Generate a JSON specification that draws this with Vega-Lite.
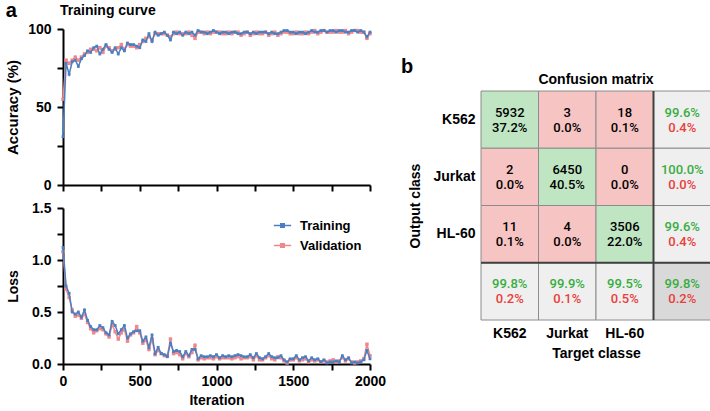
{
  "$schema": "https://vega.github.io/schema/vega-lite/v6.json",
  "padding": {"left": 5, "top": 1, "right": 0, "bottom": 0},
  "config": {
    "font": "Liberation Sans",
    "view": {"stroke": null},
    "axis": {"domainColor": "black", "domainWidth": 2, "tickColor": "black", "tickWidth": 2, "tickSize": 6, "labelFontSize": 14, "labelFontWeight": "bold", "labelColor": "black", "titleFontSize": 14, "titleFontWeight": "bold", "titleColor": "black", "grid": false, "labelFlush": false, "labelOverlap": false},
    "axisX": {"labelPadding": 4},
    "axisY": {"labelPadding": 6},
    "title": {"color": "black", "fontWeight": "bold"}
  },
  "datasets": {
    "curve": [
      {"it":0,"accT":31,"accV":55,"lossT":1.12,"lossV":1.08},
      {"it":20,"accT":78,"accV":80,"lossT":0.75,"lossV":0.72},
      {"it":40,"accT":71,"accV":78,"lossT":0.68,"lossV":0.64},
      {"it":60,"accT":79,"accV":80,"lossT":0.50,"lossV":0.52},
      {"it":80,"accT":80,"accV":82,"lossT":0.48,"lossV":0.46},
      {"it":100,"accT":76,"accV":80,"lossT":0.50,"lossV":0.47},
      {"it":120,"accT":81,"accV":82,"lossT":0.45,"lossV":0.44},
      {"it":140,"accT":83,"accV":84,"lossT":0.52,"lossV":0.48},
      {"it":160,"accT":86,"accV":85,"lossT":0.42,"lossV":0.40},
      {"it":180,"accT":85,"accV":87,"lossT":0.36,"lossV":0.34},
      {"it":200,"accT":88,"accV":87,"lossT":0.33,"lossV":0.30},
      {"it":220,"accT":89,"accV":86,"lossT":0.33,"lossV":0.32},
      {"it":240,"accT":84,"accV":88,"lossT":0.37,"lossV":0.34},
      {"it":260,"accT":87,"accV":85,"lossT":0.35,"lossV":0.33},
      {"it":280,"accT":90,"accV":89,"lossT":0.30,"lossV":0.29},
      {"it":300,"accT":87,"accV":88,"lossT":0.28,"lossV":0.26},
      {"it":320,"accT":85,"accV":86,"lossT":0.41,"lossV":0.38},
      {"it":340,"accT":88,"accV":87,"lossT":0.37,"lossV":0.31},
      {"it":360,"accT":84,"accV":88,"lossT":0.29,"lossV":0.24},
      {"it":380,"accT":88,"accV":90,"lossT":0.33,"lossV":0.30},
      {"it":400,"accT":86,"accV":87,"lossT":0.37,"lossV":0.33},
      {"it":420,"accT":91,"accV":90,"lossT":0.25,"lossV":0.22},
      {"it":440,"accT":90,"accV":89,"lossT":0.29,"lossV":0.28},
      {"it":460,"accT":90,"accV":89,"lossT":0.31,"lossV":0.30},
      {"it":480,"accT":89,"accV":88,"lossT":0.32,"lossV":0.36},
      {"it":500,"accT":88,"accV":90,"lossT":0.32,"lossV":0.30},
      {"it":520,"accT":93,"accV":92,"lossT":0.22,"lossV":0.20},
      {"it":540,"accT":92,"accV":94,"lossT":0.26,"lossV":0.23},
      {"it":560,"accT":97,"accV":95,"lossT":0.16,"lossV":0.14},
      {"it":580,"accT":92,"accV":93,"lossT":0.28,"lossV":0.24},
      {"it":600,"accT":98,"accV":97,"lossT":0.10,"lossV":0.09},
      {"it":620,"accT":96,"accV":97,"lossT":0.16,"lossV":0.13},
      {"it":640,"accT":97,"accV":97,"lossT":0.10,"lossV":0.10},
      {"it":660,"accT":98,"accV":97,"lossT":0.09,"lossV":0.08},
      {"it":680,"accT":96,"accV":96,"lossT":0.07,"lossV":0.08},
      {"it":700,"accT":93,"accV":95,"lossT":0.20,"lossV":0.24},
      {"it":720,"accT":98,"accV":97,"lossT":0.12,"lossV":0.10},
      {"it":740,"accT":97,"accV":98,"lossT":0.13,"lossV":0.11},
      {"it":760,"accT":98,"accV":97,"lossT":0.12,"lossV":0.09},
      {"it":780,"accT":96,"accV":97,"lossT":0.07,"lossV":0.05},
      {"it":800,"accT":98,"accV":97,"lossT":0.12,"lossV":0.10},
      {"it":820,"accT":97,"accV":98,"lossT":0.08,"lossV":0.07},
      {"it":840,"accT":98,"accV":96,"lossT":0.14,"lossV":0.11},
      {"it":860,"accT":96,"accV":94,"lossT":0.14,"lossV":0.18},
      {"it":880,"accT":99,"accV":98,"lossT":0.05,"lossV":0.04},
      {"it":900,"accT":98,"accV":98,"lossT":0.08,"lossV":0.06},
      {"it":920,"accT":98,"accV":97,"lossT":0.07,"lossV":0.05},
      {"it":940,"accT":97,"accV":98,"lossT":0.07,"lossV":0.06},
      {"it":960,"accT":98,"accV":97,"lossT":0.08,"lossV":0.06},
      {"it":980,"accT":99,"accV":98,"lossT":0.07,"lossV":0.05},
      {"it":1000,"accT":98,"accV":98,"lossT":0.09,"lossV":0.07},
      {"it":1020,"accT":97,"accV":98,"lossT":0.06,"lossV":0.05},
      {"it":1040,"accT":98,"accV":97,"lossT":0.08,"lossV":0.06},
      {"it":1060,"accT":98,"accV":97,"lossT":0.07,"lossV":0.06},
      {"it":1080,"accT":97,"accV":98,"lossT":0.08,"lossV":0.06},
      {"it":1100,"accT":98,"accV":97,"lossT":0.07,"lossV":0.05},
      {"it":1120,"accT":98,"accV":98,"lossT":0.08,"lossV":0.06},
      {"it":1140,"accT":97,"accV":98,"lossT":0.09,"lossV":0.07},
      {"it":1160,"accT":97,"accV":96,"lossT":0.08,"lossV":0.05},
      {"it":1180,"accT":98,"accV":97,"lossT":0.07,"lossV":0.06},
      {"it":1200,"accT":98,"accV":98,"lossT":0.07,"lossV":0.06},
      {"it":1220,"accT":97,"accV":96,"lossT":0.09,"lossV":0.07},
      {"it":1240,"accT":98,"accV":97,"lossT":0.06,"lossV":0.04},
      {"it":1260,"accT":97,"accV":98,"lossT":0.10,"lossV":0.08},
      {"it":1280,"accT":98,"accV":97,"lossT":0.06,"lossV":0.04},
      {"it":1300,"accT":98,"accV":97,"lossT":0.05,"lossV":0.04},
      {"it":1320,"accT":98,"accV":98,"lossT":0.07,"lossV":0.06},
      {"it":1340,"accT":97,"accV":96,"lossT":0.10,"lossV":0.08},
      {"it":1360,"accT":98,"accV":97,"lossT":0.07,"lossV":0.05},
      {"it":1380,"accT":97,"accV":98,"lossT":0.06,"lossV":0.04},
      {"it":1400,"accT":97,"accV":96,"lossT":0.06,"lossV":0.07},
      {"it":1420,"accT":98,"accV":97,"lossT":0.08,"lossV":0.06},
      {"it":1440,"accT":99,"accV":98,"lossT":0.04,"lossV":0.03},
      {"it":1460,"accT":99,"accV":98,"lossT":0.02,"lossV":0.01},
      {"it":1480,"accT":98,"accV":97,"lossT":0.05,"lossV":0.04},
      {"it":1500,"accT":98,"accV":97,"lossT":0.05,"lossV":0.04},
      {"it":1520,"accT":97,"accV":98,"lossT":0.08,"lossV":0.06},
      {"it":1540,"accT":98,"accV":97,"lossT":0.04,"lossV":0.03},
      {"it":1560,"accT":98,"accV":97,"lossT":0.06,"lossV":0.04},
      {"it":1580,"accT":97,"accV":98,"lossT":0.07,"lossV":0.05},
      {"it":1600,"accT":98,"accV":97,"lossT":0.03,"lossV":0.02},
      {"it":1620,"accT":99,"accV":98,"lossT":0.06,"lossV":0.04},
      {"it":1640,"accT":98,"accV":99,"lossT":0.04,"lossV":0.03},
      {"it":1660,"accT":98,"accV":97,"lossT":0.05,"lossV":0.04},
      {"it":1680,"accT":99,"accV":98,"lossT":0.02,"lossV":0.02},
      {"it":1700,"accT":99,"accV":99,"lossT":0.04,"lossV":0.03},
      {"it":1720,"accT":98,"accV":98,"lossT":0.01,"lossV":0.02},
      {"it":1740,"accT":99,"accV":98,"lossT":0.02,"lossV":0.03},
      {"it":1760,"accT":99,"accV":98,"lossT":0.02,"lossV":0.04},
      {"it":1780,"accT":98,"accV":99,"lossT":0.03,"lossV":0.02},
      {"it":1800,"accT":99,"accV":98,"lossT":0.02,"lossV":0.03},
      {"it":1820,"accT":99,"accV":98,"lossT":0.08,"lossV":0.06},
      {"it":1840,"accT":98,"accV":99,"lossT":0.04,"lossV":0.03},
      {"it":1860,"accT":98,"accV":97,"lossT":0.06,"lossV":0.05},
      {"it":1880,"accT":99,"accV":98,"lossT":0.01,"lossV":0.02},
      {"it":1900,"accT":99,"accV":99,"lossT":0.02,"lossV":0.01},
      {"it":1920,"accT":98,"accV":99,"lossT":0.01,"lossV":0.02},
      {"it":1940,"accT":99,"accV":98,"lossT":0.02,"lossV":0.03},
      {"it":1960,"accT":98,"accV":98,"lossT":0.04,"lossV":0.05},
      {"it":1980,"accT":95,"accV":94,"lossT":0.13,"lossV":0.19},
      {"it":2000,"accT":98,"accV":97,"lossT":0.05,"lossV":0.08}
    ],
    "cm": [
      {"row":"K562","col":"K562","t1":"5932","t2":"37.2%","kind":"diag"},
      {"row":"K562","col":"Jurkat","t1":"3","t2":"0.0%","kind":"off"},
      {"row":"K562","col":"HL-60","t1":"18","t2":"0.1%","kind":"off"},
      {"row":"K562","col":"Total","t1":"99.6%","t2":"0.4%","kind":"sum"},
      {"row":"Jurkat","col":"K562","t1":"2","t2":"0.0%","kind":"off"},
      {"row":"Jurkat","col":"Jurkat","t1":"6450","t2":"40.5%","kind":"diag"},
      {"row":"Jurkat","col":"HL-60","t1":"0","t2":"0.0%","kind":"off"},
      {"row":"Jurkat","col":"Total","t1":"100.0%","t2":"0.0%","kind":"sum"},
      {"row":"HL-60","col":"K562","t1":"11","t2":"0.1%","kind":"off"},
      {"row":"HL-60","col":"Jurkat","t1":"4","t2":"0.0%","kind":"off"},
      {"row":"HL-60","col":"HL-60","t1":"3506","t2":"22.0%","kind":"diag"},
      {"row":"HL-60","col":"Total","t1":"99.6%","t2":"0.4%","kind":"sum"},
      {"row":"Total","col":"K562","t1":"99.8%","t2":"0.2%","kind":"sum"},
      {"row":"Total","col":"Jurkat","t1":"99.9%","t2":"0.1%","kind":"sum"},
      {"row":"Total","col":"HL-60","t1":"99.5%","t2":"0.5%","kind":"sum"},
      {"row":"Total","col":"Total","t1":"99.8%","t2":"0.2%","kind":"total"}
    ]
  },
  "spacing": 15,
  "hconcat": [
    {
      "title": {"text": "a", "anchor": "start", "frame": "bounds", "fontSize": 20, "offset": -17},
      "spacing": 9,
      "resolve": {"scale": {"color": "independent"}, "legend": {"color": "independent"}},
      "vconcat": [
        {
          "width": 307, "height": 156,
          "title": {"text": "Training curve", "anchor": "start", "frame": "group", "fontSize": 14, "offset": 4, "dx": -3},
          "data": {"name": "curve"},
          "layer": [
            {
              "mark": {"type": "line", "strokeWidth": 1.5, "point": {"shape": "square", "size": 12, "filled": true}},
              "encoding": {
                "x": {"field": "it", "type": "quantitative", "scale": {"domain": [0, 2000], "nice": false}, "axis": {"values": [0,250,500,750,1000,1250,1500,1750,2000], "labels": false, "title": null}},
                "y": {"field": "accV", "type": "quantitative", "scale": {"domain": [0, 100]}, "axis": {"values": [0,25,50,75,100], "labelExpr": "datum.value % 50 == 0 ? datum.label : ''", "title": "Accuracy (%)", "titleFontSize": 15, "titlePadding": 7}},
                "color": {"datum": "Validation", "type": "nominal", "scale": {"domain": ["Training", "Validation"], "range": ["#4a7fc1", "#f0878b"]}, "legend": null}
              }
            },
            {
              "mark": {"type": "line", "strokeWidth": 1.5, "point": {"shape": "square", "size": 8, "filled": true}},
              "encoding": {
                "x": {"field": "it", "type": "quantitative", "scale": {"domain": [0, 2000], "nice": false}, "axis": {"values": [0,250,500,750,1000,1250,1500,1750,2000], "labels": false, "title": null}},
                "y": {"field": "accT", "type": "quantitative", "scale": {"domain": [0, 100]}, "axis": {"values": [0,25,50,75,100], "labelExpr": "datum.value % 50 == 0 ? datum.label : ''", "title": "Accuracy (%)", "titleFontSize": 15, "titlePadding": 7}},
                "color": {"datum": "Training", "type": "nominal", "scale": {"domain": ["Training", "Validation"], "range": ["#4a7fc1", "#f0878b"]}, "legend": null}
              }
            }
          ]
        },
        {
          "width": 307, "height": 156,
          "data": {"name": "curve"},
          "layer": [
            {
              "mark": {"type": "line", "strokeWidth": 1.5, "point": {"shape": "square", "size": 12, "filled": true}},
              "encoding": {
                "x": {"field": "it", "type": "quantitative", "scale": {"domain": [0, 2000], "nice": false}, "axis": {"values": [0,250,500,750,1000,1250,1500,1750,2000], "labelExpr": "datum.value % 500 == 0 ? datum.value + '' : ''", "title": "Iteration", "titlePadding": 5}},
                "y": {"field": "lossV", "type": "quantitative", "scale": {"domain": [0, 1.5]}, "axis": {"values": [0,0.25,0.5,0.75,1,1.25,1.5], "labelExpr": "(datum.value * 4) % 2 == 0 ? format(datum.value, '.1f') : ''", "title": "Loss", "titlePadding": 11}},
                "color": {"datum": "Validation", "type": "nominal", "scale": {"domain": ["Training", "Validation"], "range": ["#4a7fc1", "#f0878b"]}, "legend": {"orient": "top-right", "offset": 8, "padding": 0, "title": null, "labelFontSize": 13, "labelFontWeight": "bold", "labelColor": "black", "symbolType": "M-1,0H1M-0.2,-0.2H0.2V0.2H-0.2Z", "symbolSize": 300, "symbolStrokeWidth": 1.5, "rowPadding": 3, "labelOffset": 8}}
              }
            },
            {
              "mark": {"type": "line", "strokeWidth": 1.5, "point": {"shape": "square", "size": 8, "filled": true}},
              "encoding": {
                "x": {"field": "it", "type": "quantitative", "scale": {"domain": [0, 2000], "nice": false}, "axis": {"values": [0,250,500,750,1000,1250,1500,1750,2000], "labelExpr": "datum.value % 500 == 0 ? datum.value + '' : ''", "title": "Iteration", "titlePadding": 5}},
                "y": {"field": "lossT", "type": "quantitative", "scale": {"domain": [0, 1.5]}, "axis": {"values": [0,0.25,0.5,0.75,1,1.25,1.5], "labelExpr": "(datum.value * 4) % 2 == 0 ? format(datum.value, '.1f') : ''", "title": "Loss", "titlePadding": 11}},
                "color": {"datum": "Training", "type": "nominal", "scale": {"domain": ["Training", "Validation"], "range": ["#4a7fc1", "#f0878b"]}, "legend": {"orient": "top-right", "offset": 8, "padding": 0, "title": null, "labelFontSize": 13, "labelFontWeight": "bold", "labelColor": "black", "symbolType": "M-1,0H1M-0.2,-0.2H0.2V0.2H-0.2Z", "symbolSize": 300, "symbolStrokeWidth": 1.5, "rowPadding": 3, "labelOffset": 8}}
              }
            }
          ]
        }
      ]
    },
    {
      "spacing": -4,
      "vconcat": [
        {
          "width": 1, "height": 28,
          "data": {"values": []},
          "mark": "point",
          "title": {"text": "b", "orient": "bottom", "anchor": "start", "frame": "bounds", "fontSize": 20, "offset": 0, "dx": -80}
        },
        {
          "width": 230, "height": 229,
          "title": {"text": "Confusion matrix", "anchor": "middle", "frame": "group", "fontSize": 14, "offset": 3},
          "data": {"name": "cm"},
          "layer": [
            {
              "mark": {"type": "rect", "stroke": "#8c8c8c", "strokeWidth": 1},
              "encoding": {
                "x": {"field": "col", "type": "nominal", "scale": {"domain": ["K562", "Jurkat", "HL-60", "Total"], "paddingInner": 0, "paddingOuter": 0}, "axis": {"orient": "bottom", "title": "Target classe", "labelExpr": "datum.value == 'Total' ? '' : datum.value", "labelAngle": 0, "domain": false, "ticks": false, "labelPadding": 6, "titlePadding": 6}},
                "y": {"field": "row", "type": "nominal", "scale": {"domain": ["K562", "Jurkat", "HL-60", "Total"], "paddingInner": 0, "paddingOuter": 0}, "axis": {"title": "Output class", "labelExpr": "datum.value == 'Total' ? '' : datum.value", "domain": false, "ticks": false, "labelPadding": 6, "titlePadding": 10}},
                "fill": {"field": "kind", "type": "nominal", "scale": {"domain": ["diag", "off", "sum", "total"], "range": ["#bfe5c3", "#f6c4c2", "#efefef", "#d9d9d9"]}, "legend": null}
              }
            },
            {
              "mark": {"type": "text", "dy": -7, "fontSize": 13, "font": "Roboto", "fontWeight": 500},
              "encoding": {
                "x": {"field": "col", "type": "nominal"},
                "y": {"field": "row", "type": "nominal"},
                "text": {"field": "t1"},
                "color": {"condition": {"test": "datum.kind == 'sum' || datum.kind == 'total'", "value": "#38ad3f"}, "value": "black"}
              }
            },
            {
              "mark": {"type": "text", "dy": 8, "fontSize": 13, "font": "Roboto", "fontWeight": 500},
              "encoding": {
                "x": {"field": "col", "type": "nominal"},
                "y": {"field": "row", "type": "nominal"},
                "text": {"field": "t2"},
                "color": {"condition": {"test": "datum.kind == 'sum' || datum.kind == 'total'", "value": "#e8403a"}, "value": "black"}
              }
            },
            {
              "data": {"values": [{"col": "Total", "row": "Total"}]},
              "mark": {"type": "rule", "stroke": "#404040", "strokeWidth": 2},
              "encoding": {"x": {"field": "col", "type": "nominal", "bandPosition": 0}}
            },
            {
              "data": {"values": [{"col": "Total", "row": "Total"}]},
              "mark": {"type": "rule", "stroke": "#404040", "strokeWidth": 2},
              "encoding": {"y": {"field": "row", "type": "nominal", "bandPosition": 0}}
            }
          ]
        }
      ]
    }
  ]
}
